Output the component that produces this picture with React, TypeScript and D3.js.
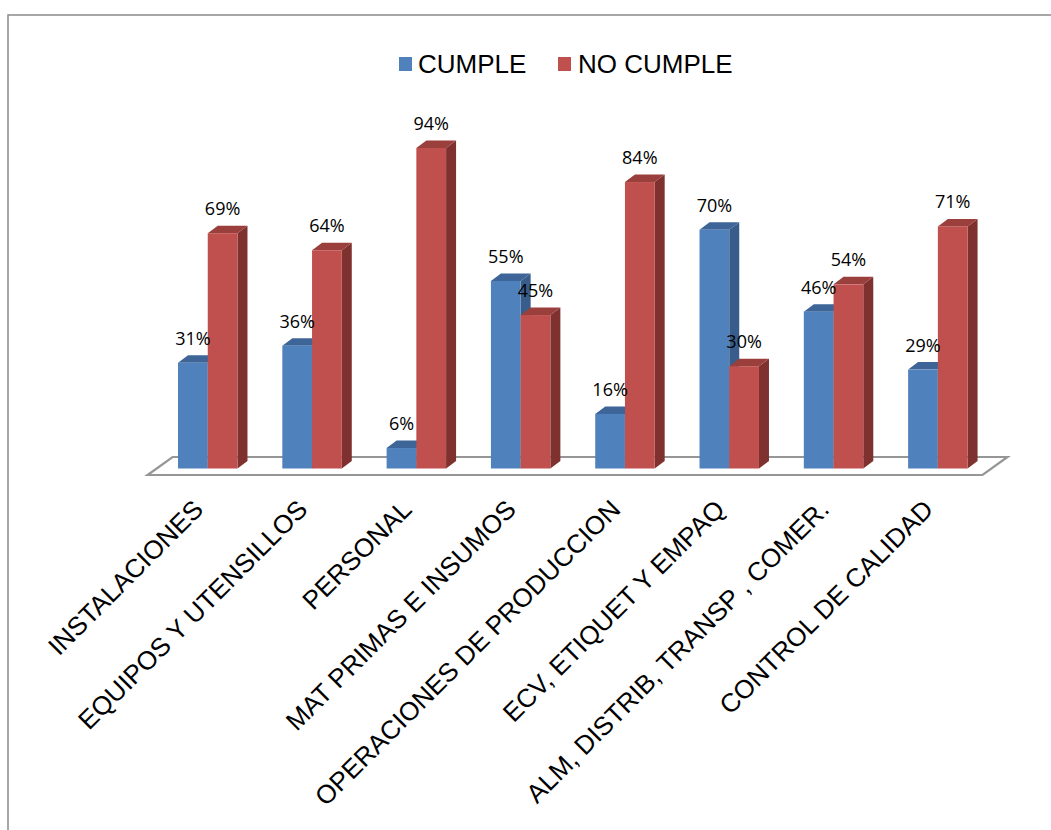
import React from "react";
import * as d3 from "d3";

const categories = [
  "INSTALACIONES",
  "EQUIPOS Y UTENSILLOS",
  "PERSONAL",
  "MAT PRIMAS E INSUMOS",
  "OPERACIONES DE PRODUCCION",
  "ECV, ETIQUET Y EMPAQ",
  "ALM, DISTRIB, TRANSP , COMER.",
  "CONTROL DE CALIDAD",
];
const seriesNames = ["CUMPLE", "NO CUMPLE"];
const cumple = [31, 36, 6, 55, 16, 70, 46, 29];
const noCumple = [69, 64, 94, 45, 84, 30, 54, 71];

const W = 1051;
const H = 830;

// front / top / side shades for each series
const palette = [
  { front: "#4F81BD", top: "#3E6597", side: "#385D8A" },
  { front: "#C0504D", top: "#9A3F3C", side: "#7E312F" },
];

const DX = 10; // bar depth, horizontal
const DY = 7.5; // bar depth, vertical

export default function App() {
  const x = d3
    .scaleBand<string>()
    .domain(categories)
    .range([155.6, 990])
    .paddingInner(0.43)
    .paddingOuter(0.215);
  const xs = d3.scaleBand<string>().domain(seriesNames).range([0, x.bandwidth()]).padding(0);
  const y = d3.scaleLinear().domain([0, 100]).range([468.5, 127.5]);

  const values = [cumple, noCumple];

  // floor of the 3-D plot
  const fl = 147.6;
  const fr = 982.5;
  const fy = 475;
  const fdx = 25;
  const fdy = 18;
  const floorPath = d3.path();
  floorPath.moveTo(fl, fy);
  floorPath.lineTo(fr, fy);
  floorPath.lineTo(fr + fdx, fy - fdy);
  floorPath.lineTo(fl + fdx, fy - fdy);
  floorPath.closePath();

  const bars: React.ReactNode[] = [];
  const labels: React.ReactNode[] = [];
  categories.forEach((c, i) => {
    seriesNames.forEach((s, k) => {
      const v = values[k][i];
      const x0 = (x(c) ?? 0) + (xs(s) ?? 0);
      const w = xs.bandwidth();
      const yt = y(v);
      const yb = y(0);
      const col = palette[k];
      const top = `M${x0},${yt} L${x0 + DX},${yt - DY} L${x0 + w + DX},${yt - DY} L${x0 + w},${yt} Z`;
      const side = `M${x0 + w},${yt} L${x0 + w + DX},${yt - DY} L${x0 + w + DX},${yb - DY} L${x0 + w},${yb} Z`;
      bars.push(
        <g key={`b-${i}-${k}`}>
          <path d={side} fill={col.side} />
          <path d={top} fill={col.top} />
          <rect x={x0} y={yt} width={w} height={yb - yt} fill={col.front} />
        </g>
      );
      labels.push(
        <text
          key={`l-${i}-${k}`}
          x={x0 + w / 2}
          y={yt - 18}
          textAnchor="middle"
          fontFamily="'Open Sans', sans-serif"
          fontSize={18}
          fill="#000"
        >
          {v}%
        </text>
      );
    });
  });

  return (
    <svg
      width={W}
      height={H}
      style={{ position: "absolute", left: 0, top: 0, background: "#fff" }}
    >
      {/* chart area border (top and left edges visible) */}
      <rect x={8} y={15} width={W + 20} height={H + 20} fill="#fff" stroke="#8a8a8a" strokeWidth={1.5} />

      {/* legend */}
      <g fontFamily="'Liberation Sans', Arial, sans-serif" fontSize={26} fill="#000">
        <rect x={399} y={57} width={13} height={14} fill={palette[0].front} />
        <text x={418} y={73}>{seriesNames[0]}</text>
        <rect x={558} y={57} width={13} height={14} fill={palette[1].front} />
        <text x={578} y={73}>{seriesNames[1]}</text>
      </g>

      {/* floor */}
      <path d={floorPath.toString()} fill="#fff" stroke="#969696" strokeWidth={2.2} />

      {bars}
      {labels}

      {/* category labels */}
      <g fontFamily="'Liberation Sans', Arial, sans-serif" fontSize={26} fill="#000">
        {categories.map((c) => {
          const cx = (x(c) ?? 0) + x.bandwidth() / 2 - 3;
          const cy = 511;
          return (
            <text key={c} x={cx} y={cy} textAnchor="end" transform={`rotate(-45 ${cx} ${cy})`}>
              {c}
            </text>
          );
        })}
      </g>
    </svg>
  );
}
